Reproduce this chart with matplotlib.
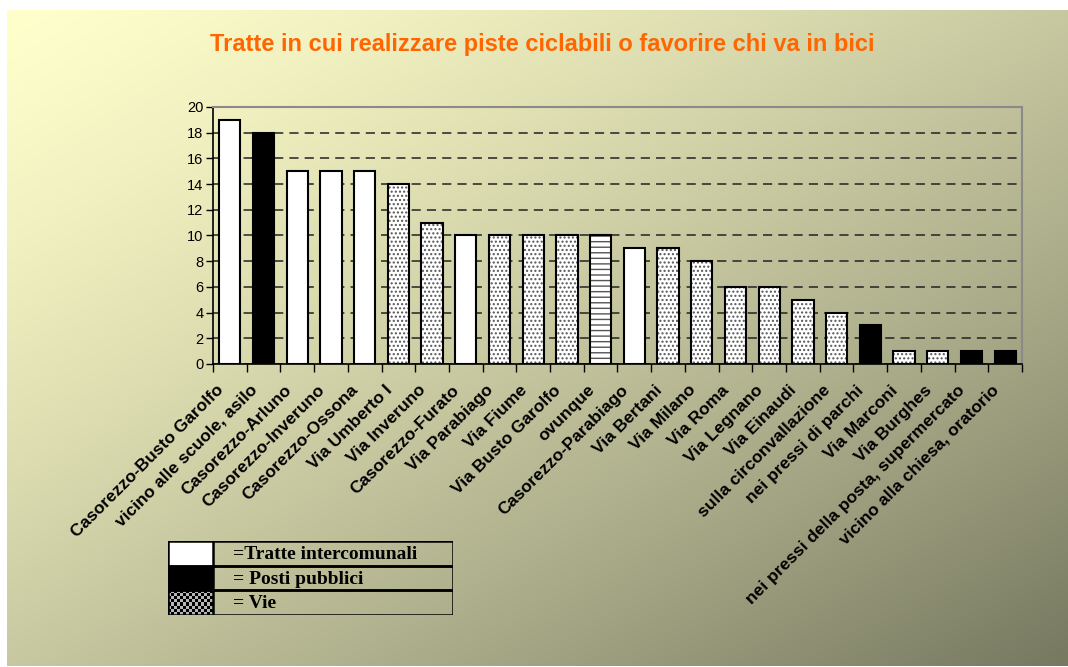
import numpy as np
import matplotlib
matplotlib.use("agg")
import matplotlib.pyplot as plt
import matplotlib.transforms as mtransforms
from matplotlib.patches import Rectangle

categories = [
    "Casorezzo-Busto Garolfo", "vicino alle scuole, asilo", "Casorezzo-Arluno",
    "Casorezzo-Inveruno", "Casorezzo-Ossona", "Via Umberto I", "Via Inveruno",
    "Casorezzo-Furato", "Via Parabiago", "Via Fiume", "Via Busto Garolfo",
    "ovunque", "Casorezzo-Parabiago", "Via Bertani", "Via Milano", "Via Roma",
    "Via Legnano", "Via Einaudi", "sulla circonvallazione", "nei pressi di parchi",
    "Via Marconi", "Via Burghes", "nei pressi della posta, supermercato",
    "vicino alla chiesa, oratorio",
]
values = [19, 18, 15, 15, 15, 14, 11, 10, 10, 10, 10, 10, 9, 9, 8, 6, 6, 5, 4, 3, 1, 1, 1, 1]
# t = tratte intercomunali, p = posti pubblici, v = vie, o = ovunque
kinds = ["t", "p", "t", "t", "t", "v", "v", "t", "v", "v", "v", "o", "t", "v",
         "v", "v", "v", "v", "v", "p", "v", "v", "p", "p"]
legend_labels = ["=Tratte intercomunali", "= Posti pubblici", "= Vie"]
title = "Tratte in cui realizzare piste ciclabili o favorire chi va in bici"

W, H = 1068, 667
fig = plt.figure(figsize=(W / 100, H / 100), dpi=100)
fig.patch.set_facecolor("white")

# gradient background panel
bg = fig.add_axes([7 / W, 1 / H, (W - 7) / W, (H - 11) / H])
bg.set_axis_off()
gx, gy = np.meshgrid(np.linspace(0, 1, 400), np.linspace(0, 1, 250))
t = ((gx + gy) / 2) ** 1.3
c0 = np.array([255, 255, 204]) / 255
c1 = np.array([118, 120, 96]) / 255
img = c0[None, None, :] * (1 - t[..., None]) + c1[None, None, :] * t[..., None]
bg.imshow(img, aspect="auto", extent=(0, 1, 1, 0))
bg.set_xlim(0, 1)
bg.set_ylim(1, 0)

fig.text(542 / W, 1 - 45 / H, title, color="#FF6600", fontsize=17,
         fontweight="bold", ha="center", va="center",
         family=["Liberation Sans Narrow", "Liberation Sans"])

ax = fig.add_axes([213 / W, 1 - 364 / H, (1022 - 213) / W, (364 - 107) / H])
ax.patch.set_alpha(0)
x = np.arange(len(categories))
bw = 0.63
for xi, v, k in zip(x, values, kinds):
    if k == "t":
        ax.bar(xi, v, bw, color="white", edgecolor="black", linewidth=1.5, zorder=3)
    elif k == "p":
        ax.bar(xi, v, bw, color="black", edgecolor="black", linewidth=1.5, zorder=3)
    else:
        hatch = "...." if k == "v" else "---"
        ax.bar(xi, v, bw, color="white", edgecolor="#555555", hatch=hatch,
               linewidth=0, zorder=3)
        ax.bar(xi, v, bw, color="none", edgecolor="black", linewidth=1.5, zorder=4)

ax.set_xlim(-0.5, len(categories) - 0.5)
ax.set_ylim(0, 20)
ax.set_yticks(np.arange(0, 21, 2))
ax.yaxis.grid(True, color="#222222", linestyle=(0, (6, 4)), linewidth=1.1, zorder=0)
ax.set_axisbelow(True)
ax.tick_params(axis="y", length=5, width=1, labelsize=10.5, pad=2)
for lab in ax.get_yticklabels():
    lab.set_family("Liberation Sans")

ax.set_xticks(x)
ax.set_xticklabels(categories, rotation=45, ha="right", va="top",
                   rotation_mode="anchor", fontsize=12.5, fontweight="bold",
                   family="Liberation Sans")
ax.tick_params(axis="x", which="major", length=0, pad=9)
shift = mtransforms.ScaledTranslation(-14 / 100, -6 / 100, fig.dpi_scale_trans)
for lab in ax.get_xticklabels():
    lab.set_transform(lab.get_transform() + shift)
ax.set_xticks(np.arange(-0.5, len(categories)), minor=True)
ax.tick_params(axis="x", which="minor", length=6, width=1)

for s in ("left", "bottom"):
    ax.spines[s].set_color("black")
    ax.spines[s].set_linewidth(1.2)
for s in ("top", "right"):
    ax.spines[s].set_color("#8a8a8a")
    ax.spines[s].set_linewidth(1.5)

# legend drawn as a small table
lg = fig.add_axes([168 / W, 1 - 615 / H, (453 - 168) / W, (615 - 541) / H])
lg.set_axis_off()
rows = [(0, 25), (25, 24), (49, 25)]
lg.add_patch(Rectangle((0, 0), 45, 25, facecolor="white", edgecolor="none"))
lg.add_patch(Rectangle((0, 25), 45, 24, facecolor="black", edgecolor="none"))
cb = np.indices((8, 15)).sum(axis=0) % 2
lg.imshow(cb, cmap="gray", interpolation="nearest", extent=(0, 45, 74, 49),
          aspect="auto", vmin=0, vmax=1.4)
for (y0, h), lab in zip(rows, legend_labels):
    lg.add_patch(Rectangle((0, y0), 285, h, facecolor="none", edgecolor="black",
                           linewidth=1.8))
    lg.plot([45, 45], [y0, y0 + h], color="black", linewidth=1.8)
    lg.text(65, y0 + h / 2 + 1, lab, fontsize=14, fontweight="bold",
            family="Liberation Serif", va="center", ha="left")
lg.set_xlim(0, 285)
lg.set_ylim(74, 0)

fig.savefig("out.png", dpi=100)
